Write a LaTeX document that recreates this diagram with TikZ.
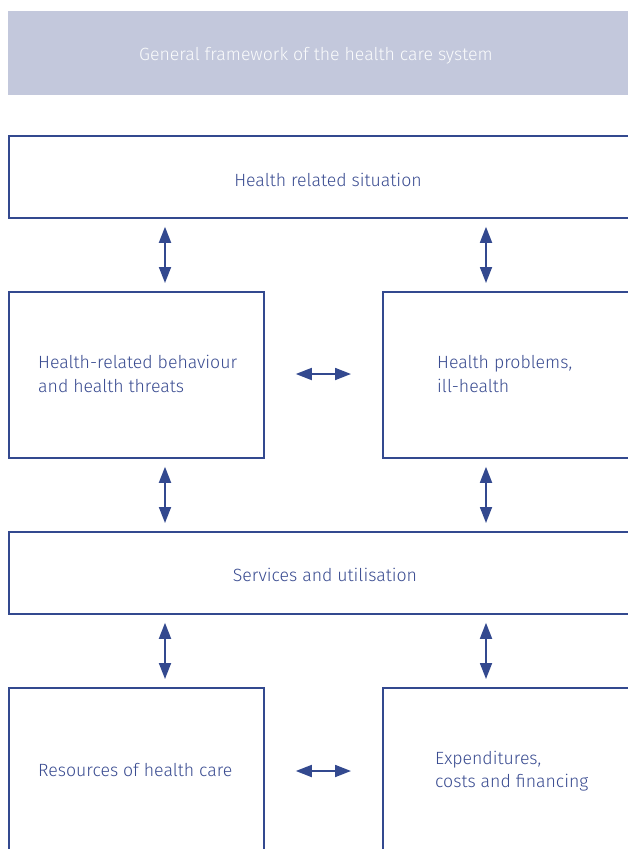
\documentclass[tikz,border=0pt]{standalone}
\usepackage{fontspec}
\setmainfont{Fira Sans Light}
\usetikzlibrary{arrows.meta}
\definecolor{hblue}{HTML}{33498F}
\definecolor{htext}{HTML}{3A4C91}
\definecolor{hband}{HTML}{C3C8DC}
\tikzset{
  box/.style={draw=hblue, line width=1.8pt, fill=white, anchor=north west, inner sep=0pt},
  lbl/.style={text=htext, font=\fontsize{17.7}{23.5}\selectfont, inner sep=0pt, align=left},
  dbl/.style={draw=hblue, line width=1.8pt, {Triangle[length=16pt,width=12pt]}-{Triangle[length=16pt,width=12pt]}, shorten >=8pt, shorten <=8pt},
  dblh/.style={dbl, shorten >=31pt, shorten <=31pt}
}
\begin{document}
\begin{tikzpicture}[x=1pt,y=-1pt]
\useasboundingbox (0,0) rectangle (627,849);
\node[fill=hband, anchor=north west, minimum width=640pt, minimum height=84pt, inner sep=0pt] (header) at (8,11) {};
\node[text=white!92!hband, font=\fontsize{17.7}{20}\selectfont, inner sep=0pt] (htitle) at (316,56) {General framework of the health care system};

\node[box, minimum width=640pt, minimum height=82pt] (top) at (8,135) {};
\node[lbl] (ttop) at (328,180) {Health related situation};

\node[box, minimum width=255pt, minimum height=166pt] (hb) at (8,291) {};
\node[lbl, anchor=west] (thb) at (38,374) {Health-related behaviour\\and health threats};
\node[box, minimum width=260pt, minimum height=166pt] (hp) at (382,291) {};
\node[lbl, anchor=west] (thp) at (437,374) {Health problems,\\ill-health};

\node[box, minimum width=640pt, minimum height=82pt] (serv) at (8,531) {};
\node[lbl] (tserv) at (325,575) {Services and utilisation};

\node[box, minimum width=255pt, minimum height=180pt] (res) at (8,687) {};
\node[lbl, anchor=west] (tres) at (38,770) {Resources of health care};
\node[box, minimum width=260pt, minimum height=180pt] (exp) at (382,687) {};
\node[lbl, anchor=west] (texp) at (435,771) {Expenditures,\\costs and financing};

\coordinate (cl) at (165,0);
\coordinate (cr) at (486,0);
\draw[dbl] (top.south -| cl) -- (hb.north -| cl);
\draw[dbl] (top.south -| cr) -- (hp.north -| cr);
\draw[dbl] (hb.south -| cl) -- (serv.north -| cl);
\draw[dbl] (hp.south -| cr) -- (serv.north -| cr);
\draw[dbl] (serv.south -| cl) -- (res.north -| cl);
\draw[dbl] (serv.south -| cr) -- (exp.north -| cr);
\coordinate (m1) at (0,374);
\coordinate (m2) at (0,771);
\draw[dblh] (hb.east |- m1) -- (hp.west |- m1);
\draw[dblh] (res.east |- m2) -- (exp.west |- m2);
\end{tikzpicture}
\end{document}
